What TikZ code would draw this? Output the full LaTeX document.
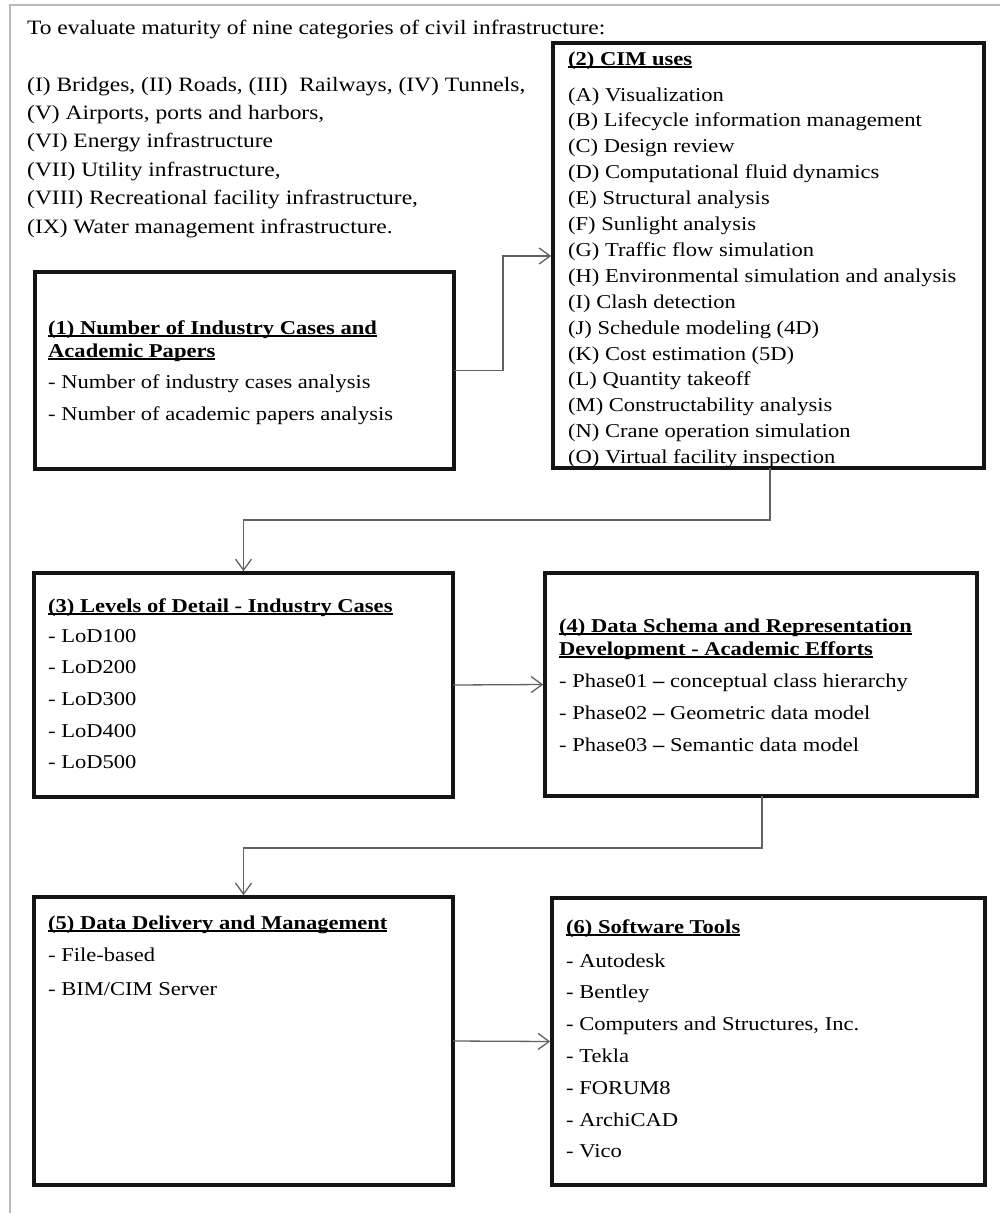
\documentclass[tikz,border=0pt]{standalone}
\usepackage{fontspec}
\setmainfont[FakeStretch=1.15]{Liberation Serif}
\usetikzlibrary{arrows.meta}
\newcommand\ttl[1]{\setbox0\hbox{\bfseries #1}\rlap{\rule[-3pt]{\wd0}{1.8pt}}\box0}
\newcommand\mkbox[5]{\node[box, minimum width={#4-#2}, minimum height={#5-#3}] (#1) at ({(#2+#4)/2},{(#3+#5)/2}) {};}
\begin{document}
\begin{tikzpicture}[x=1pt,y=-1pt,
  box/.style={draw=black!92, line width=3.6pt, inner sep=0pt, outer sep=0pt},
  txt/.style={anchor=base west, inner sep=0pt, text=black, font=\fontsize{19.6}{24}\selectfont},
  toptxt/.style={anchor=base west, inner sep=0pt, text=black, font=\fontsize{20.4}{24}\selectfont},
  conn/.style={draw=black!62, line width=1.3pt},
  arr/.style={conn, -{Straight Barb[length=11pt,width=16pt,line width=1.3pt]}, shorten >=1.8pt},
  frame/.style={draw=black!28, line width=1.8pt}]
\useasboundingbox (0,0) rectangle (999,1213);
% outer frame
\draw[frame] (10,1215) -- (10,5) -- (1001,5);
% boxes
\mkbox{b1}{35}{272}{454}{469}
\mkbox{b2}{553}{43}{984}{468}
\mkbox{b3}{34}{573}{453}{797}
\mkbox{b4}{545}{573}{977}{796}
\mkbox{b5}{34}{897}{453}{1185}
\mkbox{b6}{552}{898}{985}{1185}
% connectors
\coordinate (k1) at (503,256);
\draw[arr] (b1.east) -| (k1) -- (k1 -| b2.west);
\coordinate (k2) at (770,520);
\draw[arr] (k2 |- b2.south) -- (k2) -| (b3.north);
\draw[arr] (b3.east) -- (b4.west);
\coordinate (k3) at (762,848);
\draw[arr] (k3 |- b4.south) -- (k3) -| (b5.north);
\draw[arr] (b5.east) -- (b6.west);
% top text
\node[toptxt] (t0) at (27,34) {To evaluate maturity of nine categories of civil infrastructure:};
\foreach \s [count=\i] in {{(I) Bridges, (II) Roads, (III)\ \ Railways, (IV) Tunnels,},
  {(V) Airports, ports and harbors,},
  {(VI) Energy infrastructure},
  {(VII) Utility infrastructure,},
  {(VIII) Recreational facility infrastructure,},
  {(IX) Water management infrastructure.}}
  \node[toptxt] (t\i) at (27,{91+28.4*(\i-1)}) {\s};
% box 1
\node[txt] (b1ta) at (48,334) {\ttl{(1) Number of Industry Cases and}};
\node[txt] (b1tb) at (48,357) {\ttl{Academic Papers}};
\node[txt] (b1i1) at (48,388) {- Number of industry cases analysis};
\node[txt] (b1i2) at (48,420) {- Number of academic papers analysis};
% box 2
\node[txt] (b2t) at (568,65) {\ttl{(2) CIM uses}};
\foreach \s [count=\i] in {{(A) Visualization},{(B) Lifecycle information management},{(C) Design review},
  {(D) Computational fluid dynamics},{(E) Structural analysis},{(F) Sunlight analysis},
  {(G) Traffic flow simulation},{(H) Environmental simulation and analysis},{(I) Clash detection},
  {(J) Schedule modeling (4D)},{(K) Cost estimation (5D)},{(L) Quantity takeoff},
  {(M) Constructability analysis},{(N) Crane operation simulation},{(O) Virtual facility inspection}}
  \node[txt] (b2i\i) at (568,{101+25.9*(\i-1)}) {\s};
% box 3
\node[txt] (b3t) at (48,612) {\ttl{(3) Levels of Detail - Industry Cases}};
\foreach \s [count=\i] in {100,200,300,400,500}
  \node[txt] (b3i\i) at (48,{642+31.7*(\i-1)}) {- LoD\s};
% box 4
\node[txt] (b4ta) at (559,632) {\ttl{(4) Data Schema and Representation}};
\node[txt] (b4tb) at (559,655) {\ttl{Development - Academic Efforts}};
\node[txt] (b4i1) at (559,687) {- Phase01 \textbf{–} conceptual class hierarchy};
\node[txt] (b4i2) at (559,719) {- Phase02 \textbf{–} Geometric data model};
\node[txt] (b4i3) at (559,751) {- Phase03 \textbf{–} Semantic data model};
% box 5
\node[txt] (b5t) at (48,929) {\ttl{(5) Data Delivery and Management}};
\node[txt] (b5i1) at (48,961) {- File-based};
\node[txt] (b5i2) at (48,995) {- BIM/CIM Server};
% box 6
\node[txt] (b6t) at (566,933) {\ttl{(6) Software Tools}};
\foreach \s [count=\i] in {Autodesk,Bentley,{Computers and Structures, Inc.},Tekla,FORUM8,ArchiCAD,Vico}
  \node[txt] (b6i\i) at (566,{967+31.8*(\i-1)}) {- \s};
\end{tikzpicture}
\end{document}
